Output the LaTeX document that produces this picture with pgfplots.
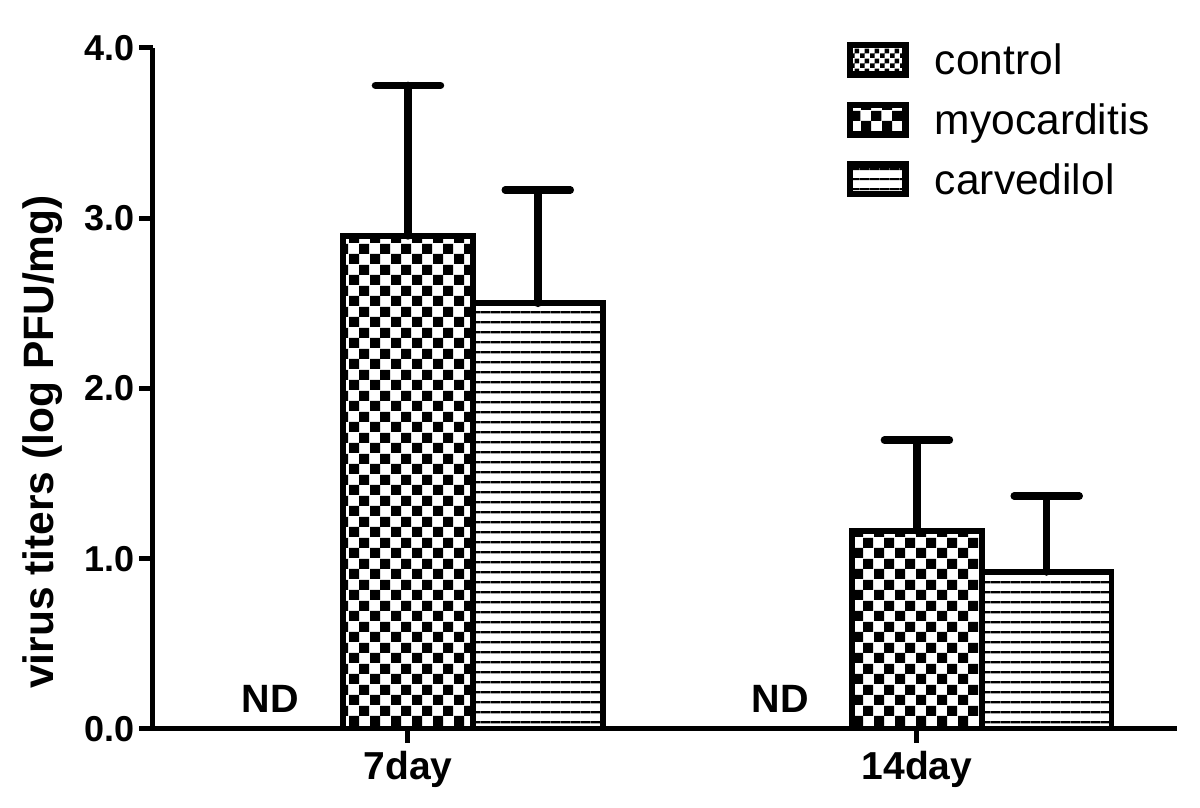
\documentclass[border=0pt]{standalone}
\usepackage{pgfplots}
\pgfplotsset{compat=1.18}
\usepackage{fontspec}
\setmainfont{Liberation Sans}
\usetikzlibrary{patterns,patterns.meta}

% coarse checker for the myocarditis bars
\pgfdeclarepattern{
  name=coarsechecker, type=uncolored,
  bottom left={\pgfpoint{0pt}{0pt}},
  top right={\pgfpoint{8.2pt}{8.2pt}},
  tile size={\pgfpoint{8.2pt}{8.2pt}},
  code={
    \pgfpathrectangle{\pgfpoint{0pt}{0pt}}{\pgfpoint{4.1pt}{4.1pt}}
    \pgfpathrectangle{\pgfpoint{4.1pt}{4.1pt}}{\pgfpoint{4.1pt}{4.1pt}}
    \pgfusepath{fill}
  }
}
% fine checker for control
\pgfdeclarepattern{
  name=finechecker, type=uncolored,
  bottom left={\pgfpoint{0pt}{0pt}},
  top right={\pgfpoint{4pt}{4pt}},
  tile size={\pgfpoint{4pt}{4pt}},
  code={
    \pgfpathrectangle{\pgfpoint{0pt}{0pt}}{\pgfpoint{2pt}{2pt}}
    \pgfpathrectangle{\pgfpoint{2pt}{2pt}}{\pgfpoint{2pt}{2pt}}
    \pgfusepath{fill}
  }
}
% horizontal lines for carvedilol
\pgfdeclarepattern{
  name=hstripes, type=uncolored,
  bottom left={\pgfpoint{0pt}{0pt}},
  top right={\pgfpoint{4.1pt}{4.1pt}},
  tile size={\pgfpoint{4.1pt}{4.1pt}},
  code={
    \pgfpathrectangle{\pgfpoint{0pt}{1.6pt}}{\pgfpoint{4.1pt}{0.9pt}}
    \pgfusepath{fill}
  }
}

\pgfplotstableread{
x      y      e
1      2.896  0.884
2      1.163  0.534
}\myodata
\pgfplotstableread{
x      y      e
1.255  2.500  0.666
2.255  0.922  0.447
}\carvdata

\pgfplotsset{
  myleg/.style={legend image code/.code={
    \draw[##1, line width=2.6pt] (0pt,-4.5pt) rectangle (22.2pt,7.3pt);}},
  mybar/.style={ybar, bar width=0.255, bar shift=0pt, draw=black,
    line width=2.3pt, myleg,
    error bars/y dir=plus, error bars/y explicit,
    error bars/error bar style={line width=3pt, line cap=round},
    error bars/error mark options={rotate=90, line width=3pt, mark size=13pt, line cap=round}},
}

\begin{document}
\begin{tikzpicture}
\begin{axis}[
  scale only axis, width=409.6pt, height=272.4pt,
  xmin=0.499, xmax=2.511, ymin=0, ymax=4,
  axis lines=left, axis line style={line width=2pt, -},
  xtick={1,2}, xticklabels={7day,14day},
  ytick={0,1,2,3,4},
  /pgf/number format/assume math mode=true,
  tick align=outside, major tick length=5.5pt,
  tick style={line width=2pt, black},
  xticklabel style={font=\bfseries\fontsize{15.6}{18}\selectfont},
  yticklabel style={font=\bfseries\fontsize{14.4}{17}\selectfont, xshift=1.5pt,
    /pgf/number format/fixed, /pgf/number format/fixed zerofill,
    /pgf/number format/precision=1},
  ylabel={virus titers (log PFU/mg)},
  ylabel style={font=\bfseries\fontsize{17}{20}\selectfont,
    at={(axis description cs:-0.1074,0.4215)}, anchor=center},
  legend style={at={(axis description cs:0.677,1.0096)}, anchor=north west,
    draw=none, fill=none, inner sep=0pt,
    row sep={23.9pt,between origins},
    font=\fontsize{17}{20}\selectfont,
    nodes={inner sep=0pt, text height=13pt, text depth=4pt},
    /tikz/every odd column/.append style={column sep=10.5pt}},
  legend cell align=left,
]
\addlegendimage{myleg, draw=black, pattern=finechecker}
\addplot[mybar, pattern=coarsechecker] table[x=x, y=y, y error plus=e] {\myodata};
\addplot[mybar, pattern=hstripes] table[x=x, y=y, y error plus=e] {\carvdata};
\legend{control, myocarditis, carvedilol}

\node[font=\bfseries\fontsize{15.8}{18}\selectfont, anchor=base, yshift=6.4pt]
  at (axis cs:0.729,0) {ND};
\node[font=\bfseries\fontsize{15.8}{18}\selectfont, anchor=base, yshift=6.4pt]
  at (axis cs:1.731,0) {ND};
\end{axis}
\pgfresetboundingbox
\path (-61.2pt,-31.6pt) rectangle (418.8pt,291.6pt);
\end{tikzpicture}
\end{document}
